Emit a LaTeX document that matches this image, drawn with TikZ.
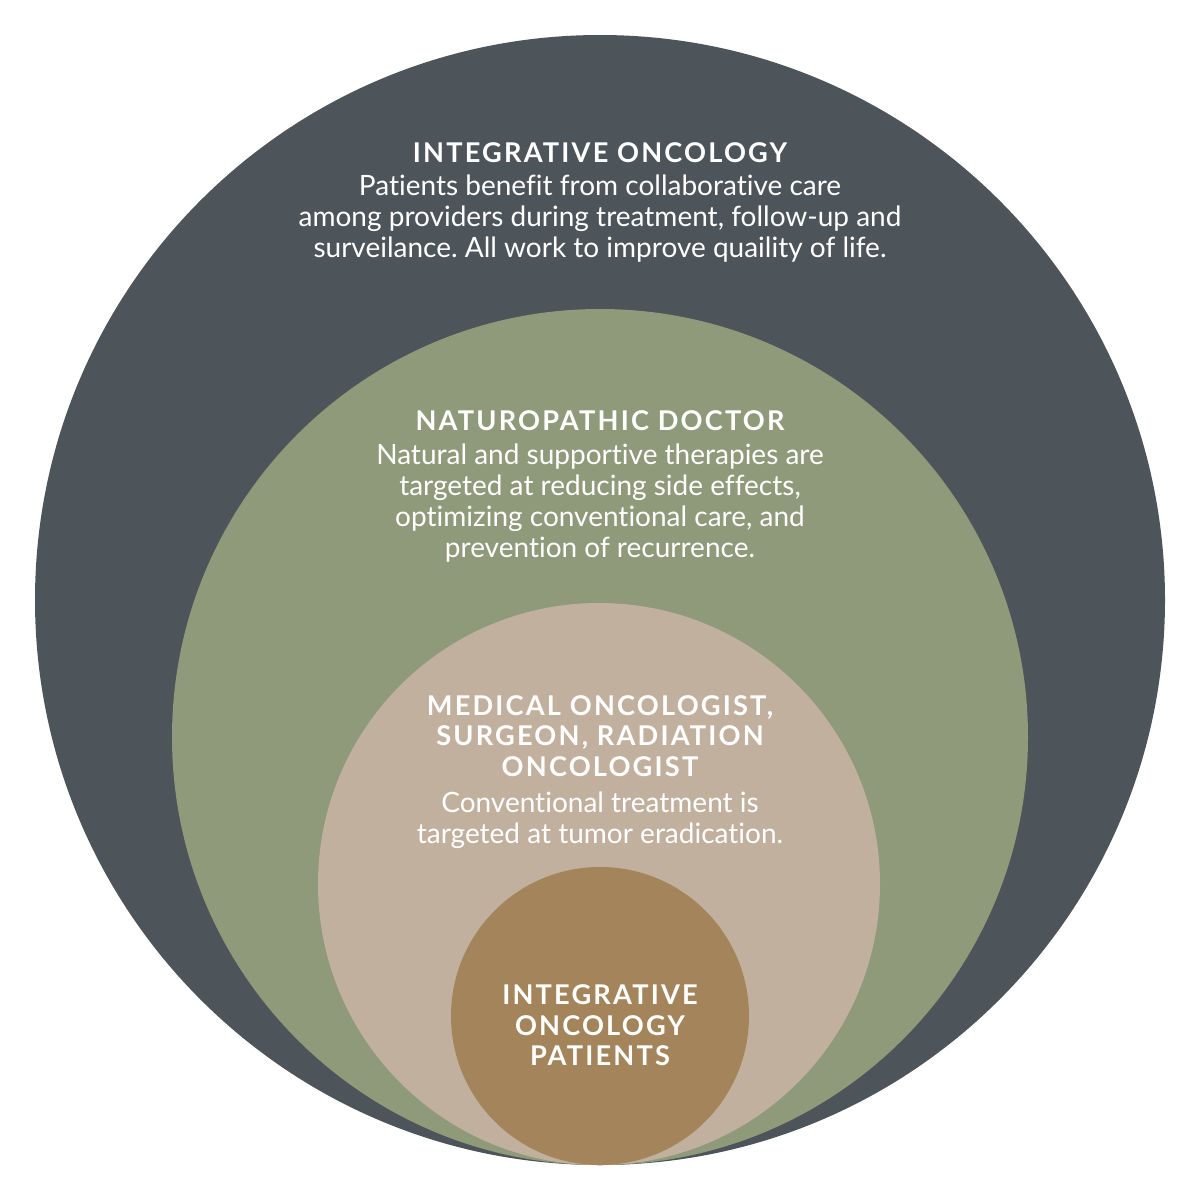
\documentclass[tikz,border=0pt]{standalone}
\usepackage{fontspec}
\setmainfont{Lato}[Ligatures=NoCommon]
\newfontfamily\headfont[LetterSpace=8]{Lato}
\frenchspacing
\definecolor{outerc}{HTML}{4D545A}
\definecolor{greenc}{HTML}{8F9A7A}
\definecolor{beigec}{HTML}{C2B09F}
\definecolor{brownc}{HTML}{A3845B}
\tikzset{
  head/.style={text=white, align=center, font=\headfont\bfseries\fontsize{13.6}{15.3}\selectfont, inner sep=0pt},
  body/.style={text=white, align=center, font=\frenchspacing\fontsize{14}{15.5}\selectfont, inner sep=0pt},
}
\begin{document}
\begin{tikzpicture}[x=0.5pt,y=-0.5pt]
\useasboundingbox (0,0) rectangle (1200,1200);
\fill[outerc] (600,600) circle[radius=565];
\fill[greenc] (600,737) circle[radius=428];
\fill[beigec] (599,884) circle[radius=281];
\fill[brownc] (600,1016) circle[radius=149];
\node[head] (h1) at (600,153) {INTEGRATIVE ONCOLOGY};
\node[body, anchor=north] (b1) at (600,174) {Patients benefit from collaborative care\\among providers during treatment, follow-up and\\surveilance. All work to improve quaility of life.};
\node[head] (h2) at (600,421) {NATUROPATHIC DOCTOR};
\node[body, anchor=north] (b2) at (600,443) {Natural and supportive therapies are\\targeted at reducing side effects,\\optimizing conventional care, and\\prevention of recurrence.};
\node[head, anchor=north] (h3) at (600,695) {MEDICAL ONCOLOGIST,\\SURGEON, RADIATION\\ONCOLOGIST};
\node[body, anchor=north] (b3) at (600,791) {Conventional treatment is\\targeted at tumor eradication.};
\node[head, anchor=north] (h4) at (600,984.5) {INTEGRATIVE\\ONCOLOGY\\PATIENTS};
\end{tikzpicture}
\end{document}
